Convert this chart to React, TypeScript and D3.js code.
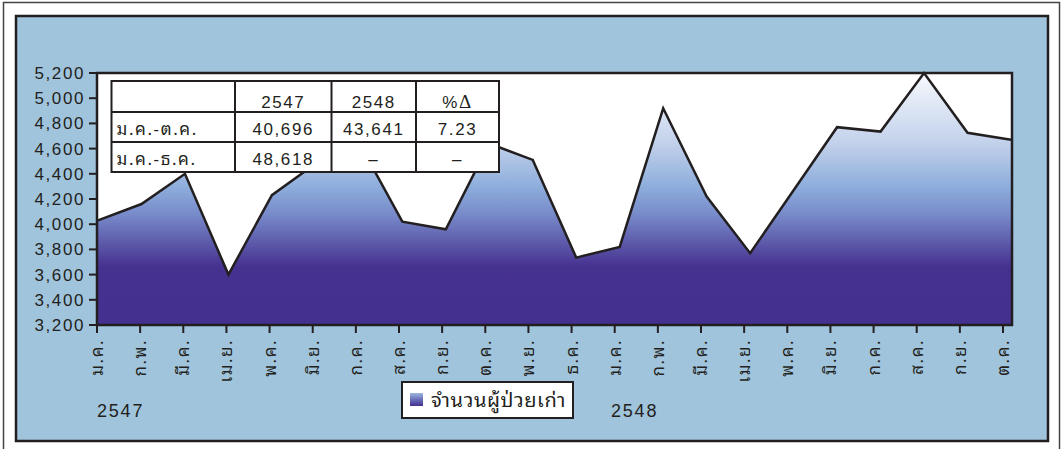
import React from "react";
import * as d3 from "d3";

// Monthly count of returning patients, 2547–2548 (B.E.)
const months2547 = ["ม.ค.", "ก.พ.", "มี.ค.", "เม.ย.", "พ.ค.", "มิ.ย.", "ก.ค.", "ส.ค.", "ก.ย.", "ต.ค.", "พ.ย.", "ธ.ค."];
const months2548 = ["ม.ค.", "ก.พ.", "มี.ค.", "เม.ย.", "พ.ค.", "มิ.ย.", "ก.ค.", "ส.ค.", "ก.ย.", "ต.ค."];
const patients2547 = [4030, 4160, 4400, 3600, 4230, 4480, 4650, 4020, 3960, 4640, 4510, 3735];
const patients2548 = [3820, 4920, 4220, 3770, 4270, 4770, 4735, 5200, 4725, 4670];
const yTicks = [3200, 3400, 3600, 3800, 4000, 4200, 4400, 4600, 4800, 5000, 5200];
const yearLabels = ["2547", "2548"];
const seriesName = "จำนวนผู้ป่วยเก่า";

// Summary table
const tableHeader = ["", "2547", "2548", "%Δ"];
const tableRows = [
  ["ม.ค.-ต.ค.", "40,696", "43,641", "7.23"],
  ["ม.ค.-ธ.ค.", "48,618", "–", "–"],
];

const W = 1062;
const H = 449;
const plot = { left: 97, top: 73, right: 1012, bottom: 325 };
const ink = "#231f20";
const numFont = "'Liberation Sans', Arial, sans-serif";
const thaiFont =
  "'Noto Sans Thai Looped', 'Loma', 'Garuda', 'Norasi', 'Kinnari', 'Noto Serif Thai', 'Noto Sans Thai', 'Liberation Sans', sans-serif";

export default function App() {
  const labels = [...months2547, ...months2548];
  const values = [...patients2547, ...patients2548];
  const idx = labels.map((_, i) => i);

  const x = d3.scalePoint<number>().domain(idx).range([plot.left + 1, plot.right - 1]);
  const xTick = d3.scalePoint<number>().domain(idx).range([plot.left, plot.right - 9]);
  const y = d3.scaleLinear().domain([3200, 5200]).range([plot.bottom, plot.top]);

  const area = d3
    .area<number>()
    .x((_, i) => x(i) as number)
    .y0(plot.bottom)
    .y1((d) => y(d));
  const line = d3
    .line<number>()
    .x((_, i) => x(i) as number)
    .y((d) => y(d));

  const colX = [111.5, 235, 331.5, 416, 499];
  const rowY = [81, 112, 142, 172];
  const isThai = (s: string) => /[\u0E00-\u0E7F]/.test(s);

  return (
    <svg width={W} height={H} style={{ position: "absolute", left: 0, top: 0 }}>
      <defs>
        <linearGradient id="areaFill" gradientUnits="userSpaceOnUse" x1="0" y1={plot.top} x2="0" y2={plot.bottom}>
          <stop offset="0" stopColor="#f7f9fd" />
          <stop offset="0.28" stopColor="#c2d1eb" />
          <stop offset="0.45" stopColor="#8eaedc" />
          <stop offset="0.56" stopColor="#788bca" />
          <stop offset="0.66" stopColor="#6060ae" />
          <stop offset="0.77" stopColor="#46318f" />
          <stop offset="1" stopColor="#44308f" />
        </linearGradient>
        <linearGradient id="swatchFill" x1="0" y1="0" x2="0" y2="1">
          <stop offset="0" stopColor="#9db6e0" />
          <stop offset="0.5" stopColor="#6a6fb8" />
          <stop offset="1" stopColor="#44308f" />
        </linearGradient>
      </defs>

      <rect x={0} y={0} width={W} height={H} fill="#fff" />
      <rect x={3.5} y={2.5} width={1056} height={460} fill="#fff" stroke="#444" strokeWidth={1.5} />
      <rect x={16} y={16} width={1032} height={425} fill="#a0c4dc" stroke={ink} strokeWidth={2.5} />

      {/* plot area */}
      <rect x={plot.left} y={plot.top} width={plot.right - plot.left} height={plot.bottom - plot.top} fill="#fff" />
      <path d={area(values) as string} fill="url(#areaFill)" />
      <path d={line(values) as string} fill="none" stroke={ink} strokeWidth={2.5} strokeLinejoin="miter" />
      <rect
        x={plot.left}
        y={plot.top}
        width={plot.right - plot.left}
        height={plot.bottom - plot.top}
        fill="none"
        stroke={ink}
        strokeWidth={2.5}
      />

      {/* y axis */}
      {yTicks.map((t) => (
        <g key={t}>
          <line x1={plot.left - 8} x2={plot.left} y1={y(t)} y2={y(t)} stroke={ink} strokeWidth={2} />
          <text
            x={plot.left - 12}
            y={y(t) + 6}
            textAnchor="end"
            fontFamily={numFont}
            fontSize={17}
            letterSpacing={1.6}
            fill={ink}
          >
            {d3.format(",")(t)}
          </text>
        </g>
      ))}

      {/* x axis */}
      {labels.map((m, i) => (
        <g key={i}>
          <line x1={xTick(i)} x2={xTick(i)} y1={plot.bottom} y2={plot.bottom + 8} stroke={ink} strokeWidth={2} />
          <text
            transform={`translate(${(xTick(i) as number) + 6},${plot.bottom + 14}) rotate(-90)`}
            textAnchor="end"
            fontFamily={thaiFont}
            fontSize={17}
            letterSpacing={1.5}
            fill={ink}
          >
            {m}
          </text>
        </g>
      ))}

      {/* year captions */}
      <text x={97} y={417} fontFamily={numFont} fontSize={18} letterSpacing={1.8} fill={ink}>
        {yearLabels[0]}
      </text>
      <text x={611} y={417} fontFamily={numFont} fontSize={18} letterSpacing={1.8} fill={ink}>
        {yearLabels[1]}
      </text>

      {/* legend */}
      <rect x={402} y={382} width={171} height={36} fill="#fff" stroke={ink} strokeWidth={2} />
      <rect x={410} y={393} width={13} height={13} fill="url(#swatchFill)" />
      <text x={431} y={407} fontFamily={thaiFont} fontSize={20} letterSpacing={0.6} fill={ink}>
        {seriesName}
      </text>

      {/* summary table */}
      <rect
        x={colX[0]}
        y={rowY[0]}
        width={colX[4] - colX[0]}
        height={rowY[3] - rowY[0]}
        fill="#fff"
        stroke={ink}
        strokeWidth={2}
      />
      {colX.slice(1, 4).map((cx) => (
        <line key={cx} x1={cx} x2={cx} y1={rowY[0]} y2={rowY[3]} stroke={ink} strokeWidth={2} />
      ))}
      {rowY.slice(1, 3).map((ry) => (
        <line key={ry} x1={colX[0]} x2={colX[4]} y1={ry} y2={ry} stroke={ink} strokeWidth={2} />
      ))}
      {tableHeader.map((h, c) =>
        h ? (
          <text
            key={c}
            x={(colX[c] + colX[c + 1]) / 2}
            y={rowY[0] + 27}
            textAnchor="middle"
            fontFamily={numFont}
            fontSize={17}
            letterSpacing={1.6}
            fill={ink}
          >
            {h.startsWith("%") ? (
              <>
                %<tspan fontFamily="'Liberation Serif', serif" fontSize={19}>Δ</tspan>
              </>
            ) : (
              h
            )}
          </text>
        ) : null
      )}
      {tableRows.map((row, r) =>
        row.map((cell, c) => (
          <text
            key={`${r}-${c}`}
            x={c === 0 ? colX[0] + 5 : (colX[c] + colX[c + 1]) / 2}
            y={rowY[r + 1] + 23}
            textAnchor={c === 0 ? "start" : "middle"}
            fontFamily={isThai(cell) ? thaiFont : numFont}
            fontSize={17}
            letterSpacing={1.6}
            fill={ink}
          >
            {cell}
          </text>
        ))
      )}
    </svg>
  );
}
